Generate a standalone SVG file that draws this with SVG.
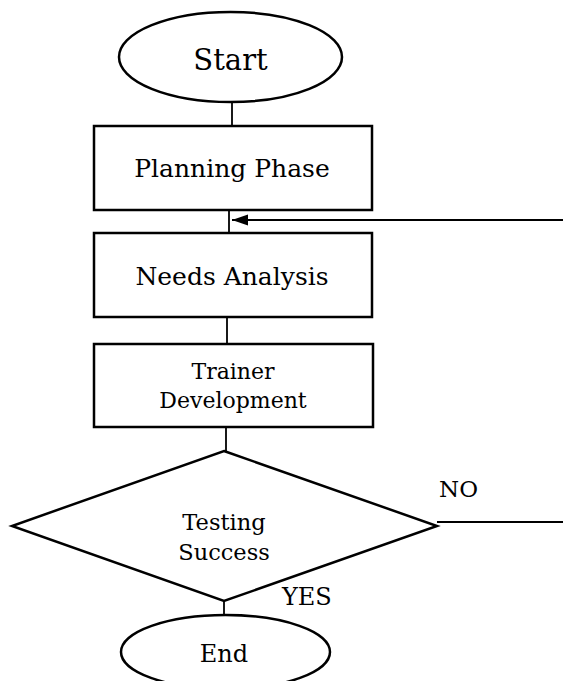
<svg xmlns="http://www.w3.org/2000/svg" width="563" height="681" viewBox="0 0 563 681">
  <style>
    .shape { fill: #ffffff; stroke: #000000; stroke-width: 2.5; }
    .link { fill: none; stroke: #000000; stroke-width: 1.8; }
    text { font-family: "DejaVu Serif", "Liberation Serif", serif; fill: #000000; text-anchor: middle; }
    .label { text-anchor: start; }
  </style>
  <defs>
    <marker id="arrowhead" markerUnits="userSpaceOnUse" markerWidth="16" markerHeight="12" refX="16" refY="6" orient="auto">
      <path d="M0,0.5 L16,6 L0,11.5 Z" fill="#000000"/>
    </marker>
  </defs>

  <rect width="563" height="681" fill="#ffffff"/>

  <!-- connectors -->
  <g id="connectors">
    <line class="link" x1="232" y1="102" x2="232" y2="126"/>
    <line class="link" x1="229" y1="210" x2="229" y2="233"/>
    <line class="link" x1="227" y1="317" x2="227" y2="344"/>
    <line class="link" x1="226" y1="427" x2="226" y2="451"/>
    <line class="link" x1="224" y1="601" x2="224" y2="615"/>
    <line class="link" x1="437" y1="522" x2="563" y2="522"/>
    <line class="link" x1="563" y1="220" x2="232" y2="220" marker-end="url(#arrowhead)"/>
    <text class="label" x="439" y="497" font-size="23">NO</text>
    <text class="label" x="282" y="605" font-size="24">YES</text>
  </g>

  <g id="start">
    <ellipse class="shape" cx="230.5" cy="57" rx="111.5" ry="45"/>
    <text x="230.5" y="70" font-size="29">Start</text>
  </g>

  <g id="planning">
    <rect class="shape" x="94" y="126" width="278" height="84"/>
    <text x="232" y="177" font-size="25">Planning Phase</text>
  </g>

  <g id="needs">
    <rect class="shape" x="94" y="233" width="278" height="84"/>
    <text x="232" y="285" font-size="25">Needs Analysis</text>
  </g>

  <g id="trainer">
    <rect class="shape" x="94" y="344" width="279" height="83"/>
    <text x="233" y="379" font-size="22">Trainer</text>
    <text x="233" y="408" font-size="22">Development</text>
  </g>

  <g id="testing">
    <polygon class="shape" points="224,451 437,526 224,601 12,526"/>
    <text x="224" y="530" font-size="22.5">Testing</text>
    <text x="224" y="560" font-size="22.5">Success</text>
  </g>

  <g id="end">
    <ellipse class="shape" cx="225.5" cy="652" rx="104.5" ry="37"/>
    <text x="224" y="662" font-size="24">End</text>
  </g>
</svg>
